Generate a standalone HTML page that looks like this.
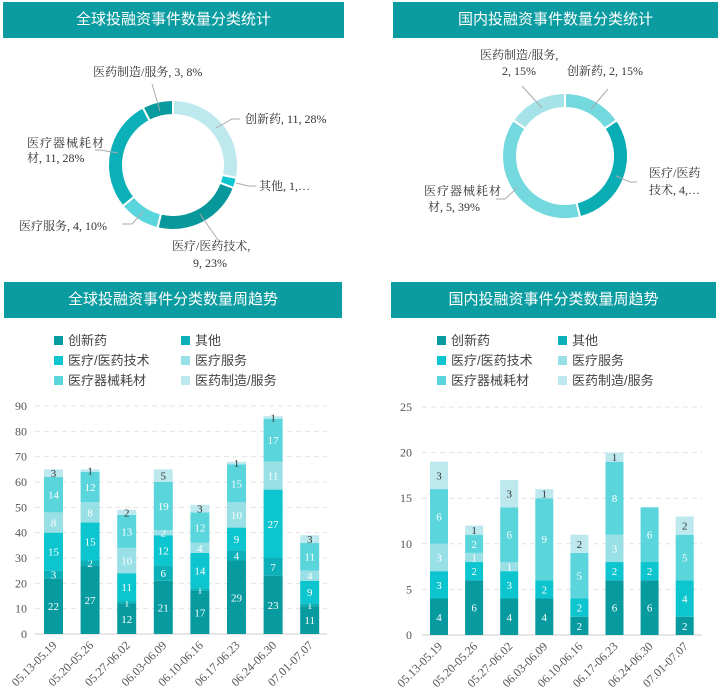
<!DOCTYPE html>
<html><head><meta charset="utf-8"><style>
html,body{margin:0;padding:0;background:#fff;}
body{width:721px;height:697px;overflow:hidden;position:relative;font-family:"Liberation Sans","Noto Sans CJK SC",sans-serif;}
.hdr{position:absolute;background:#0a9ca0;color:#fff;font-size:15px;text-align:center;line-height:36px;height:36px;}
svg{position:absolute;left:0;top:0;}
</style></head><body>
<div class="hdr" style="left:3px;top:2px;width:341px;">全球投融资事件数量分类统计</div>
<div class="hdr" style="left:393px;top:2px;width:325px;">国内投融资事件数量分类统计</div>
<div class="hdr" style="left:4px;top:282px;width:338px;">全球投融资事件分类数量周趋势</div>
<div class="hdr" style="left:391px;top:282px;width:325px;">国内投融资事件分类数量周趋势</div>
<svg id="svg" width="721" height="697" font-family="Liberation Sans, Noto Sans CJK SC, sans-serif"></svg>
<script>
const categories = ["05.13-05.19","05.20-05.26","05.27-06.02","06.03-06.09","06.10-06.16","06.17-06.23","06.24-06.30","07.01-07.07"];
const seriesNames = ["创新药","其他","医疗/医药技术","医疗服务","医疗器械耗材","医药制造/服务"];
const seriesColors = ["#079a9e","#0bb0b8","#0cc5cf","#98dfe6","#5ad5dc","#bde9ee"];
const globalInnov = [22,27,12,21,17,29,23,11];
const globalOther = [3,2,1,6,1,4,7,1];
const globalTech = [15,15,11,12,14,9,27,9];
const globalService = [8,8,10,2,4,10,11,4];
const globalDevice = [14,12,13,19,12,15,17,11];
const globalMfg = [3,1,2,5,3,1,1,3];
const domInnov = [4,6,4,4,2,6,6,2];
const domOther = [0,0,0,0,0,0,0,0];
const domTech = [3,2,3,2,2,2,2,4];
const domService = [3,1,1,0,0,3,0,0];
const domDevice = [6,2,6,9,5,8,6,5];
const domMfg = [3,1,3,1,2,1,0,2];
const globalTicks = [0,10,20,30,40,50,60,70,80,90];
const domTicks = [0,5,10,15,20,25];
const globalPieLabels = ["创新药","其他","医疗/医药技术","医疗服务","医疗器械耗材","医药制造/服务"];
const globalPieValues = [11,1,9,4,11,3];
const globalPieColors = ["#bde8ed","#0cc5cf","#08989c","#5ad5dc","#0cb0b8","#079a9e"];
const domPieLabels = ["创新药","医疗/医药技术","医疗器械耗材","医药制造/服务"];
const domPieValues = [2,4,5,2];
const domPieColors = ["#73d9df","#0aadb4","#73d9df","#a6e3e8"];

const NS="http://www.w3.org/2000/svg";
const SERIF="Liberation Serif, Noto Serif CJK SC, serif";
const svg=document.getElementById('svg');
function mk(tag,attrs,parent){const e=document.createElementNS(NS,tag);for(const k in attrs)e.setAttribute(k,attrs[k]);(parent||svg).appendChild(e);return e;}

function pie(cx,cy,R,r,vals,cols,prefix){
  const tot=vals.reduce((a,b)=>a+b,0);let a=-Math.PI/2;
  vals.forEach((v,i)=>{
    const a2=a+v/tot*2*Math.PI;
    const p=(ang,rad)=>[cx+rad*Math.cos(ang),cy+rad*Math.sin(ang)];
    const [x1,y1]=p(a,R),[x2,y2]=p(a2,R),[x3,y3]=p(a2,r),[x4,y4]=p(a,r);
    const lg=(a2-a)>Math.PI?1:0;
    const path=mk('path',{d:`M${x1},${y1}A${R},${R} 0 ${lg} 1 ${x2},${y2}L${x3},${y3}A${r},${r} 0 ${lg} 0 ${x4},${y4}Z`,fill:cols[i],stroke:'#fff','stroke-width':2});
    
    
    a=a2;
  });
}
pie(173,165,65,50,globalPieValues,globalPieColors,'global-pie');
pie(565,156,63,48,domPieValues,domPieColors,'domestic-pie');

function txt(x,y,s,opt){const t=mk('text',Object.assign({x:x,y:y,'font-size':12,fill:'#333','font-family':SERIF},opt||{}));t.textContent=s;return t;}
function line(pts){mk('polyline',{points:pts,fill:'none',stroke:'#aaa','stroke-width':1});}
// global pie labels
line("160,111 152,84");txt(93,76,"医药制造/服务, 3, 8%");
line("216,128 232,119 240,119");txt(245,123,"创新药, 11, 28%");
line("236,183 248,186 256,186");txt(259,190,"其他, 1,…");
line("200,214 218,240");txt(172,250,"医疗/医药技术,");txt(193,267,"9, 23%");
line("143,212 132,224 122,224");txt(19,230,"医疗服务, 4, 10%");
line("118,153 100,150 95,150");txt(27,147,"医疗器械耗材",{'letter-spacing':'1'});txt(27,162,"材, 11, 28%");
// domestic pie labels
line("542,108 522,86");txt(480,59,"医药制造/服务,");txt(502,75,"2, 15%");
line("591,109 608,89");txt(567,75,"创新药, 2, 15%");
line("616,176 630,182 637,182");txt(649,177,"医疗/医药");txt(649,194,"技术, 4,…");
line("517,188 505,199 496,199");txt(424,195,"医疗器械耗材",{'letter-spacing':'1'});txt(428,211,"材, 5, 39%");

function legend(x0,x1,prefix){
  seriesNames.forEach((n,i)=>{
    const x=i%2?x1:x0,y=340+Math.floor(i/2)*20;
    const g=mk('g',{});
    
    
    mk('rect',{x:x,y:y-4,width:9,height:9,fill:seriesColors[i]},g);
    const t=mk('text',{x:x+14,y:y+5,'font-size':13,fill:'#444'},g);t.textContent=n;
  });
}
legend(54,181,'global');legend(437,558,'domestic');

function bars(opt){
  const {x0,x1,yBase,yTop,max,ticks,series,c0,step,bw,prefix,labelX}=opt;
  const yS=v=>yBase-(v/max)*(yBase-yTop);
  ticks.forEach(t=>{
    const y=yS(t);
    if(t>0){const l=mk('line',{x1:x0,x2:x1,y1:y,y2:y,stroke:'#e2e2e2','stroke-dasharray':'5,4'});}
    const tt=txt(labelX,y+4,String(t),{'text-anchor':'end','font-size':12,fill:'#555'});
    
  });
  mk('line',{x1:x0,x2:x1,y1:yBase,y2:yBase,stroke:'#ccc'});
  categories.forEach((c,i)=>{
    const cx=c0+i*step;let acc=0;
    series.forEach((arr,s)=>{
      const v=arr[i];if(!v)return;
      const y1=yS(acc+v),y0=yS(acc);
      const r=mk('rect',{x:cx-bw/2,y:y1,width:bw,height:y0-y1,fill:seriesColors[s]});
      
      
      const t=txt(cx,(y0+y1)/2+4,String(v),{'text-anchor':'middle','font-size':11,fill:s===5?'#333':'#fff'});
      
      acc+=v;
    });
    const lx=cx+4,ly=yBase+12;
    const t=txt(lx,ly,c,{'text-anchor':'end','font-size':12,fill:'#555',transform:`rotate(-45 ${lx} ${ly})`});
    
  });
}
bars({x0:35,x1:327,yBase:634,yTop:406,max:90,ticks:globalTicks,series:[globalInnov,globalOther,globalTech,globalService,globalDevice,globalMfg],c0:53.5,step:36.6,bw:19,prefix:'global',labelX:27});
bars({x0:422,x1:702,yBase:635,yTop:407,max:25,ticks:domTicks,series:[domInnov,domOther,domTech,domService,domDevice,domMfg],c0:439,step:35.1,bw:18,prefix:'domestic',labelX:412});
</script>
</body></html>
